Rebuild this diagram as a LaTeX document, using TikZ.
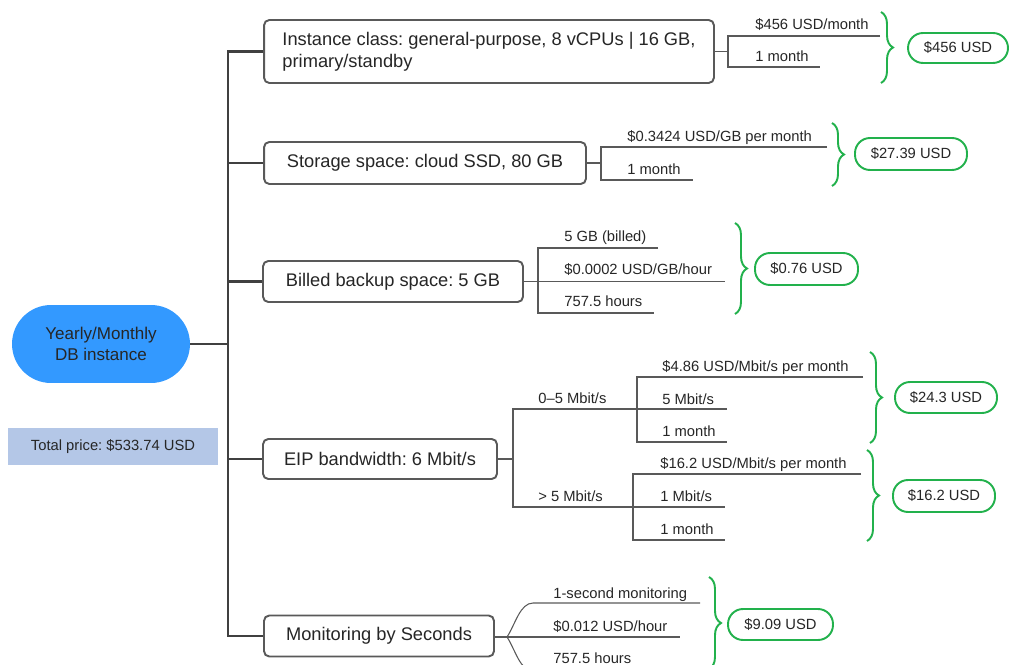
\documentclass[tikz,border=0pt]{standalone}
\usepackage{fontspec}
\setmainfont{Liberation Sans}
\usepackage{tikz}
\usetikzlibrary{decorations.pathreplacing}
\usetikzlibrary{calc}

\definecolor{rootblue}{RGB}{51,153,255}
\definecolor{totalblue}{RGB}{180,199,231}
\definecolor{okgreen}{RGB}{34,177,76}
\definecolor{linegray}{RGB}{89,89,89}
\definecolor{trunkgray}{RGB}{64,64,64}
\definecolor{inkgray}{RGB}{38,38,38}

\tikzset{
	root/.style={fill=rootblue,rounded corners=0.78cm,minimum width=3.56cm,minimum height=1.56cm,
		align=center,inner sep=0pt,text=inkgray,font=\fontsize{9.7}{11.5}\selectfont},
	total/.style={fill=totalblue,minimum width=4.2cm,minimum height=0.74cm,inner sep=0pt,
		text=inkgray,font=\fontsize{8.4}{10}\selectfont},
	stage/.style={draw=linegray,line width=1.1pt,rounded corners=3pt,fill=white,inner sep=0pt,
		text=inkgray,font=\fontsize{10.4}{12.5}\selectfont},
	leaf/.style={anchor=base west,inner sep=0pt,text=inkgray,font=\fontsize{8.4}{10}\selectfont},
	price/.style={draw=okgreen,line width=1.1pt,rounded corners=0.3cm,fill=white,inner sep=0pt,
		text=inkgray,font=\fontsize{8.4}{10}\selectfont},
	trunk/.style={draw=trunkgray,line width=1.7pt},
	twig/.style={draw=linegray,line width=0.6pt},
	bracket/.style={draw=okgreen,line width=1.1pt,decorate,decoration={brace,amplitude=0.24cm}}
}
\frenchspacing

\begin{document}
\begin{tikzpicture}[x=0.02cm,y=-0.02cm]
	\useasboundingbox (0,0) rectangle (1010,665);
	\clip (0,0) rectangle (1010,665);
	%%%%%%%%%%%%%%%
	\node[root] (db) at (101,344) {Yearly/Monthly\\DB instance};
	\node[total] (sum) at (113,446.5) {Total price: \$533.74 USD};
	%%%%%%%%%%%%%%%
	\node[stage,minimum width=9cm,minimum height=1.26cm,align=left] (inst) at (489,51.5)
		{Instance class: general-purpose, 8 vCPUs | 16 GB,\\primary/standby};
	\node[stage,minimum width=6.44cm,minimum height=0.84cm] (stor) at (425,163) {Storage space: cloud SSD, 80 GB};
	\node[stage,minimum width=5.2cm,minimum height=0.82cm] (back) at (393,281.5) {Billed backup space: 5 GB};
	\node[stage,minimum width=4.68cm,minimum height=0.8cm] (eip) at (380,459) {EIP bandwidth: 6 Mbit/s};
	\node[stage,minimum width=4.6cm,minimum height=0.82cm] (mon) at (379,636) {Monitoring by Seconds};
	%%%%%%%%%%%%%%%
	\coordinate (spine) at (228,344);
	\draw[trunk] (db.east) -- (spine);
	\draw[trunk] (inst.west) -| (spine) |- (mon.west);
	\draw[trunk] (stor.west) -- (stor.west -| spine);
	\draw[trunk] (back.west) -- (back.west -| spine);
	\draw[trunk] (eip.west) -- (eip.west -| spine);
	%%%%%%%%%%%%%%% instance class
	\coordinate (i0) at (728,51.5);
	\coordinate (i1) at (880,36);
	\coordinate (i2) at (820,67);
	\draw[twig] (inst.east) -- (i0);
	\draw[twig] (i1) -| (i0) |- (i2);
	\node[leaf] (i1t) at (755,30) {\$456 USD/month};
	\node[leaf] (i2t) at (755,62) {1 month};
	\draw[bracket] (881,12) -- (881,83);
	\node[price,minimum width=2cm,minimum height=0.6cm] (iprice) at (958,48) {\$456 USD};
	%%%%%%%%%%%%%%% storage
	\coordinate (s0) at (601,163);
	\coordinate (s1) at (827,147);
	\coordinate (s2) at (693,180);
	\draw[twig] (stor.east) -- (s0);
	\draw[twig] (s1) -| (s0) |- (s2);
	\node[leaf] (s1t) at (627,142) {\$0.3424 USD/GB per month};
	\node[leaf] (s2t) at (627,175) {1 month};
	\draw[bracket] (832,123) -- (832,186);
	\node[price,minimum width=2.24cm,minimum height=0.64cm] (sprice) at (911,154) {\$27.39 USD};
	%%%%%%%%%%%%%%% backup
	\coordinate (b0) at (538,281.5);
	\coordinate (b1) at (658,248);
	\coordinate (b2) at (725,281.5);
	\coordinate (b3) at (654,313);
	\draw[twig] (back.east) -- (b2);
	\draw[twig] (b1) -| (b0) |- (b3);
	\node[leaf] (b1t) at (564,242) {5 GB (billed)};
	\node[leaf] (b2t) at (564,275) {\$0.0002 USD/GB/hour};
	\node[leaf] (b3t) at (564,307) {757.5 hours};
	\draw[bracket] (735,223) -- (735,314);
	\node[price,minimum width=2.06cm,minimum height=0.64cm] (bprice) at (806.5,269) {\$0.76 USD};
	%%%%%%%%%%%%%%% bandwidth
	\coordinate (e0) at (513,459);
	\coordinate (ea) at (637,409);
	\coordinate (eb) at (633,507);
	\coordinate (ea1) at (863,377);
	\coordinate (ea2) at (727,409);
	\coordinate (ea3) at (727,442);
	\coordinate (eb1) at (861,474);
	\coordinate (eb2) at (725,507);
	\coordinate (eb3) at (725,540);
	\draw[twig] (eip.east) -- (e0);
	\draw[twig] (ea2) -| (e0) |- (eb2);
	\draw[twig] (ea1) -| (ea) |- (ea3);
	\draw[twig] (eb1) -| (eb) |- (eb3);
	\node[leaf] (eat) at (538,403) {0--5 Mbit/s};
	\node[leaf] (ebt) at (538,501) {> 5 Mbit/s};
	\node[leaf] (ea1t) at (662,371) {\$4.86 USD/Mbit/s per month};
	\node[leaf] (ea2t) at (662,404) {5 Mbit/s};
	\node[leaf] (ea3t) at (662,436) {1 month};
	\node[leaf] (eb1t) at (660,468) {\$16.2 USD/Mbit/s per month};
	\node[leaf] (eb2t) at (660,501) {1 Mbit/s};
	\node[leaf] (eb3t) at (660,534) {1 month};
	\draw[bracket] (870,352) -- (870,443);
	\node[price,minimum width=2.04cm,minimum height=0.62cm] (eaprice) at (946,397.5) {\$24.3 USD};
	\draw[bracket] (867,450) -- (867,541);
	\node[price,minimum width=2.04cm,minimum height=0.64cm] (ebprice) at (944,496) {\$16.2 USD};
	%%%%%%%%%%%%%%% monitoring
	\coordinate (m0) at (507,637);
	\coordinate (m1) at (700,603);
	\coordinate (m1a) at (533,603);
	\coordinate (m2) at (680,637);
	\coordinate (m3) at (690,671);
	\coordinate (m3a) at (533,671);
	\draw[twig] (mon.east |- m0) -- (m2);
	\draw[twig] (m1) -- (m1a) .. controls (520,603) and (515,625) .. (m0);
	\draw[twig] (m3) -- (m3a) .. controls (520,671) and (515,649) .. (m0);
	\node[leaf] (m1t) at (553,598) {1-second monitoring};
	\node[leaf] (m2t) at (553,631) {\$0.012 USD/hour};
	\node[leaf] (m3t) at (553,663) {757.5 hours};
	\draw[bracket] (709,577) -- (709,669);
	\node[price,minimum width=2.1cm,minimum height=0.62cm] (mprice) at (780.5,624.5) {\$9.09 USD};
\end{tikzpicture}
\end{document}
